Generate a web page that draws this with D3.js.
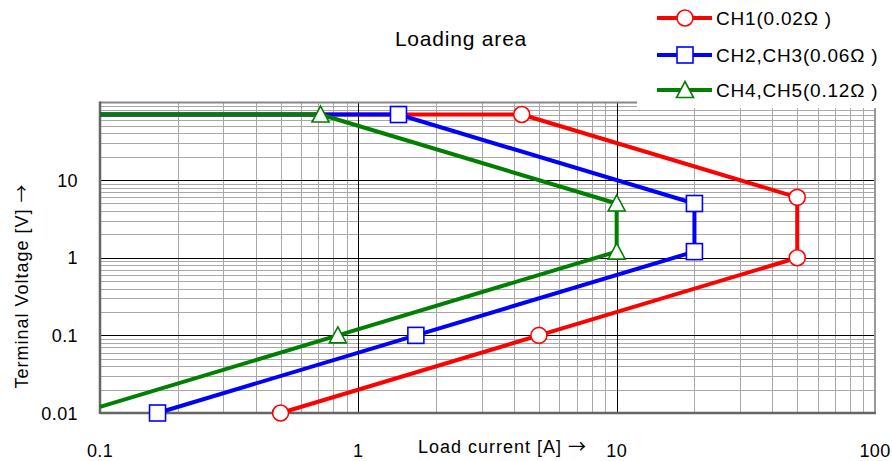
<!DOCTYPE html>
<html>
<head>
<meta charset="utf-8">
<script src="https://cdn.jsdelivr.net/npm/d3@7"></script>
<style>
  body { margin: 0; background: #fff; }
  text { font-family: "Liberation Sans", Arial, sans-serif; fill: #000; }
  .arrow { font-family: "Noto Sans CJK JP", sans-serif; }
</style>
</head>
<body>
<svg id="chart" width="892" height="461"></svg>
<script>
// Data
var channels = ["CH1(0.02Ω )", "CH2,CH3(0.06Ω )", "CH4,CH5(0.12Ω )"];
var ch1Current = [0.1, 4.29, 50, 50, 5, 0.5];
var ch1Voltage = [70, 70, 6, 1, 0.1, 0.01];
var ch2Current = [0.1, 1.43, 20, 20, 1.67, 0.167];
var ch2Voltage = [70, 70, 5, 1.2, 0.1, 0.01];
var ch4Current = [0.1, 0.714, 10, 10, 0.833, 0.1];
var ch4Voltage = [70, 70, 5, 1.2, 0.1, 0.012];
var xTicks = [0.1, 1, 10, 100];
var yTicks = [0.01, 0.1, 1, 10];

var colors = ["#ff0000", "#0000ff", "#008000"];
var shapes = ["circle", "square", "triangle"];

var svg = d3.select("svg#chart");

var x = d3.scaleLog().domain([0.1, 100]).range([100, 875]);
var y = d3.scaleLog().domain([0.01, 100]).range([413, 102.5]);

// grid
var minorX = [], minorY = [];
[0.1, 1, 10].forEach(function (d) {
    for (var k = 2; k <= 9; k++) minorX.push(d * k);
});
[0.01, 0.1, 1, 10].forEach(function (d) {
    for (var k = 2; k <= 9; k++) minorY.push(d * k);
});

var grid = svg.append("g");
grid.selectAll("line.mx").data(minorX).enter().append("line")
    .attr("x1", function (d) { return Math.round(x(d)) + 0.5; })
    .attr("x2", function (d) { return Math.round(x(d)) + 0.5; })
    .attr("y1", y(100)).attr("y2", y(0.01))
    .attr("stroke", "#a8a8a8").attr("stroke-width", 1);
grid.selectAll("line.my").data(minorY).enter().append("line")
    .attr("y1", function (d) { return Math.round(y(d)) + 0.5; })
    .attr("y2", function (d) { return Math.round(y(d)) + 0.5; })
    .attr("x1", x(0.1)).attr("x2", x(100))
    .attr("stroke", "#a8a8a8").attr("stroke-width", 1);
// major lines
grid.selectAll("line.Mx").data([1, 10]).enter().append("line")
    .attr("x1", function (d) { return Math.round(x(d)) + 0.5; })
    .attr("x2", function (d) { return Math.round(x(d)) + 0.5; })
    .attr("y1", y(100)).attr("y2", y(0.01))
    .attr("stroke", "#000").attr("stroke-width", 1);
grid.selectAll("line.My").data([0.1, 1, 10]).enter().append("line")
    .attr("y1", function (d) { return Math.round(y(d)) + 0.5; })
    .attr("y2", function (d) { return Math.round(y(d)) + 0.5; })
    .attr("x1", x(0.1)).attr("x2", x(100))
    .attr("stroke", "#000").attr("stroke-width", 1);

// frame
grid.append("line").attr("x1", x(0.1)).attr("x2", x(100))
    .attr("y1", y(100)).attr("y2", y(100)).attr("stroke", "#888").attr("stroke-width", 2);
grid.append("line").attr("x1", x(100)).attr("x2", x(100))
    .attr("y1", y(100)).attr("y2", y(0.01)).attr("stroke", "#999").attr("stroke-width", 2);
grid.append("line").attr("x1", x(0.1)).attr("x2", x(100) + 1)
    .attr("y1", y(0.01)).attr("y2", y(0.01)).attr("stroke", "#666").attr("stroke-width", 2.5);
grid.append("line").attr("x1", x(0.1)).attr("x2", x(0.1))
    .attr("y1", y(100) - 1).attr("y2", y(0.01) + 1).attr("stroke", "#666").attr("stroke-width", 2.5);

// axes labels
svg.append("g").selectAll("text").data(xTicks).enter().append("text")
    .attr("x", function (d) { return x(d); })
    .attr("y", 457)
    .attr("text-anchor", "middle")
    .attr("font-size", 18).attr("letter-spacing", 0.4)
    .text(function (d) { return d; });
svg.append("g").selectAll("text").data(yTicks).enter().append("text")
    .attr("x", 78)
    .attr("y", function (d) { return y(d) + 6.5; })
    .attr("text-anchor", "end")
    .attr("font-size", 18).attr("letter-spacing", 0.4)
    .text(function (d) { return d; });

var xt = svg.append("text").attr("x", 418).attr("y", 453)
    .attr("font-size", 18).attr("letter-spacing", 1);
xt.append("tspan").text("Load current [A] ");
xt.append("tspan").attr("class", "arrow").text("→");

var yt = svg.append("text")
    .attr("transform", "translate(28,286) rotate(-90)")
    .attr("text-anchor", "middle")
    .attr("font-size", 18).attr("letter-spacing", 1);
yt.append("tspan").text("Terminal Voltage [V] ");
yt.append("tspan").attr("class", "arrow").text("→");

svg.append("text").attr("x", 461).attr("y", 46)
    .attr("text-anchor", "middle")
    .attr("font-size", 21).attr("letter-spacing", 0.8).text("Loading area");

function drawMarker(g, shape, color, cx, cy) {
    if (shape === "circle") {
        g.append("circle").attr("cx", cx).attr("cy", cy).attr("r", 8)
            .attr("fill", "#fff").attr("stroke", color).attr("stroke-width", 1.6);
    } else if (shape === "square") {
        g.append("rect").attr("x", cx - 8).attr("y", cy - 8)
            .attr("width", 16).attr("height", 16)
            .attr("fill", "#fff").attr("stroke", color).attr("stroke-width", 1.6);
    } else {
        g.append("path")
            .attr("d", "M" + cx + "," + (cy - 8.5) + "L" + (cx + 8.5) + "," + (cy + 7.5) +
                "L" + (cx - 8.5) + "," + (cy + 7.5) + "Z")
            .attr("fill", "#fff").attr("stroke", color).attr("stroke-width", 1.6);
    }
}

// series
var series = [
    { cur: ch1Current, volt: ch1Voltage },
    { cur: ch2Current, volt: ch2Voltage },
    { cur: ch4Current, volt: ch4Voltage }
];
var line = d3.line()
    .x(function (d) { return x(d[0]); })
    .y(function (d) { return y(d[1]); });

series.forEach(function (s, i) {
    var pts = s.cur.map(function (c, j) { return [c, s.volt[j]]; });
    var g = svg.append("g");
    g.append("path").datum(pts).attr("d", line)
        .attr("fill", "none").attr("stroke", colors[i])
        .attr("stroke-width", 4).attr("stroke-linejoin", "round");
    pts.filter(function (p) { return p[0] > 0.1; }).forEach(function (p) {
        drawMarker(g, shapes[i], colors[i], x(p[0]), y(p[1]));
    });
});

// legend (white box hides grid behind it)
var lg = svg.append("g");
lg.append("rect").attr("x", 637).attr("y", 0).attr("width", 255).attr("height", 108)
    .attr("fill", "#fff");
var legendY = [18, 55, 90];
channels.forEach(function (name, i) {
    lg.append("line").attr("x1", 657).attr("x2", 712)
        .attr("y1", legendY[i]).attr("y2", legendY[i])
        .attr("stroke", colors[i]).attr("stroke-width", 4);
    drawMarker(lg, shapes[i], colors[i], 685, legendY[i]);
    lg.append("text").attr("x", 716).attr("y", legendY[i] + 7)
        .attr("font-size", 19).attr("letter-spacing", 0.8).text(name);
});
</script>
</body>
</html>
